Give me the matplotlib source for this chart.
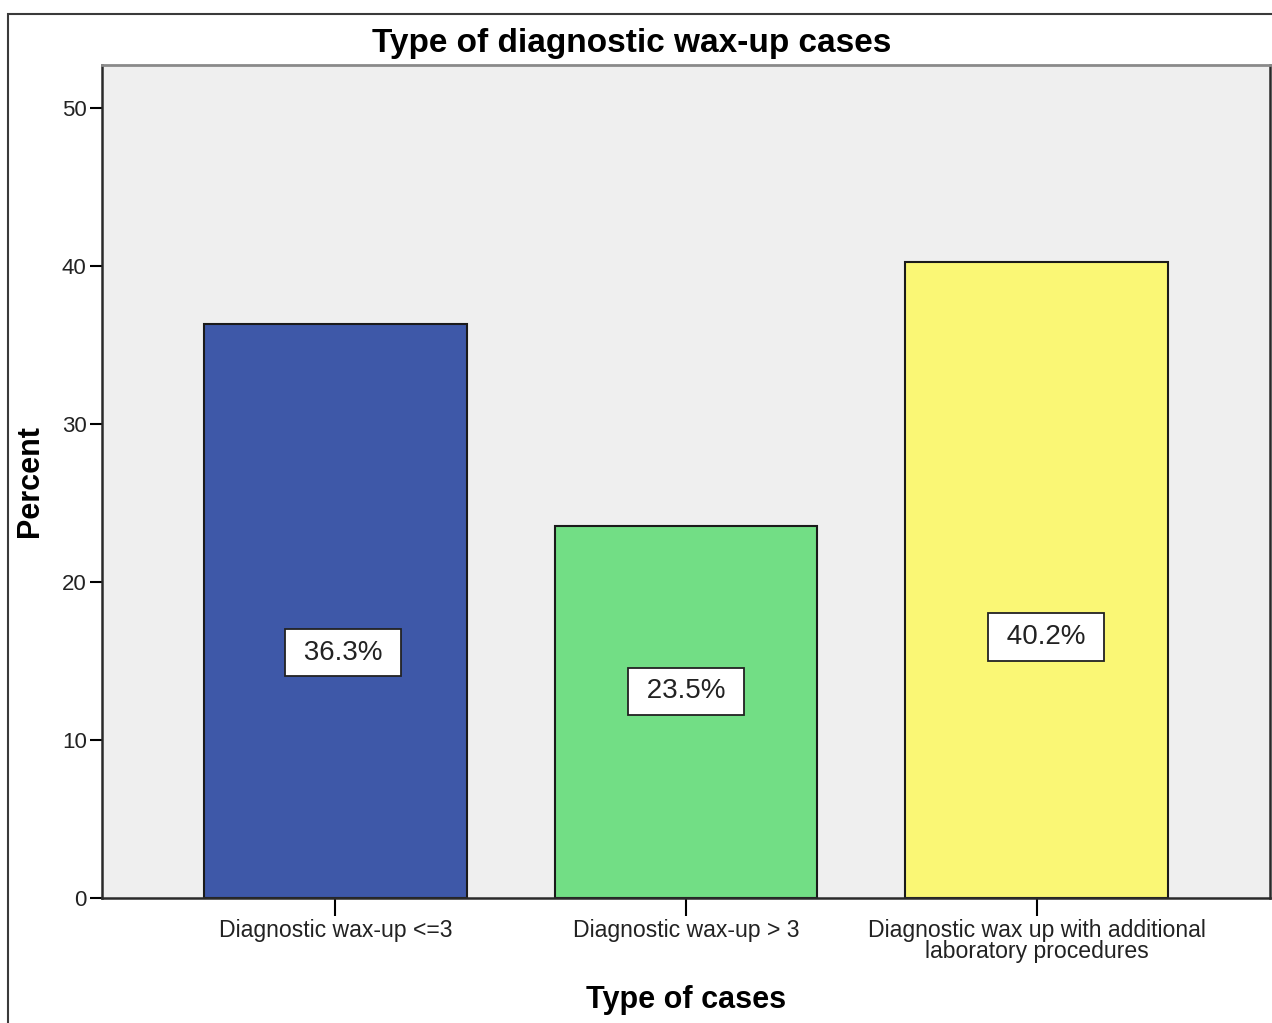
import matplotlib
matplotlib.use("Agg")
from matplotlib import pyplot
from matplotlib.patches import Rectangle

matplotlib.rcParams['font.family'] = ['Liberation Sans', 'DejaVu Sans']

categories = ['Diagnostic wax-up <=3', 'Diagnostic wax-up > 3',
              'Diagnostic wax up with additional\nlaboratory procedures']
percent = [36.3, 23.5, 40.2]
colors = ['#3e58a8', '#72de85', '#faf775']

# where the value boxes sit (x shift, y centre), in data units
label_dx = [0.021, 0.0, 0.027]
label_y = [15.5, 13.05, 16.5]

fig = pyplot.figure(figsize=(12.72, 10.23), dpi=100)
ax = fig.add_axes([0.0802, 0.1225, 0.9182, 0.814])
ax.set_facecolor('#efefef')

xs = range(len(categories))
ax.bar(xs, percent, width=0.75, color=colors, edgecolor='#1a1a1a', linewidth=1.5, zorder=2)

for x, p, dx, y in zip(xs, percent, label_dx, label_y):
    ax.text(x + dx, y, ' %.1f%% ' % p, ha='center', va='center', fontsize=20, color='#222222',
            bbox=dict(boxstyle='square,pad=0.38', facecolor='white', edgecolor='#222222', linewidth=1.3),
            zorder=3)

ax.set_xlim(-0.666, 2.666)
ax.set_ylim(0, 52.7)
ax.set_yticks([0, 10, 20, 30, 40, 50])
ax.set_xticks(list(xs))
ax.set_xticklabels(categories, fontsize=16.6, linespacing=0.9, color='#222222')
ax.tick_params(axis='y', labelsize=16, length=9, width=1.5, direction='out', labelcolor='#222222', pad=2)
ax.tick_params(axis='x', length=13, width=1.5, direction='out', pad=2)

for side in ['left', 'bottom', 'right']:
    ax.spines[side].set_color('#2a2a2a')
    ax.spines[side].set_linewidth(1.8)
ax.spines['top'].set_color('#8a8a8a')
ax.spines['top'].set_linewidth(2.0)

ax.set_ylabel('Percent', fontsize=22, fontweight='bold', labelpad=12)
ax.set_xlabel('Type of cases', fontsize=22, fontweight='bold', labelpad=16)
fig.text(0.497, 0.957, 'Type of diagnostic wax-up cases', ha='center', va='center',
         fontsize=24, fontweight='bold')

# outer frame around the chart
fig.patches.append(Rectangle((8 / 1272, -0.05), 1.2, (1023 - 14) / 1023 + 0.05,
                             transform=fig.transFigure, fill=False,
                             edgecolor='#3a3a3a', linewidth=1.5))

fig.savefig('out.png', dpi=100)
